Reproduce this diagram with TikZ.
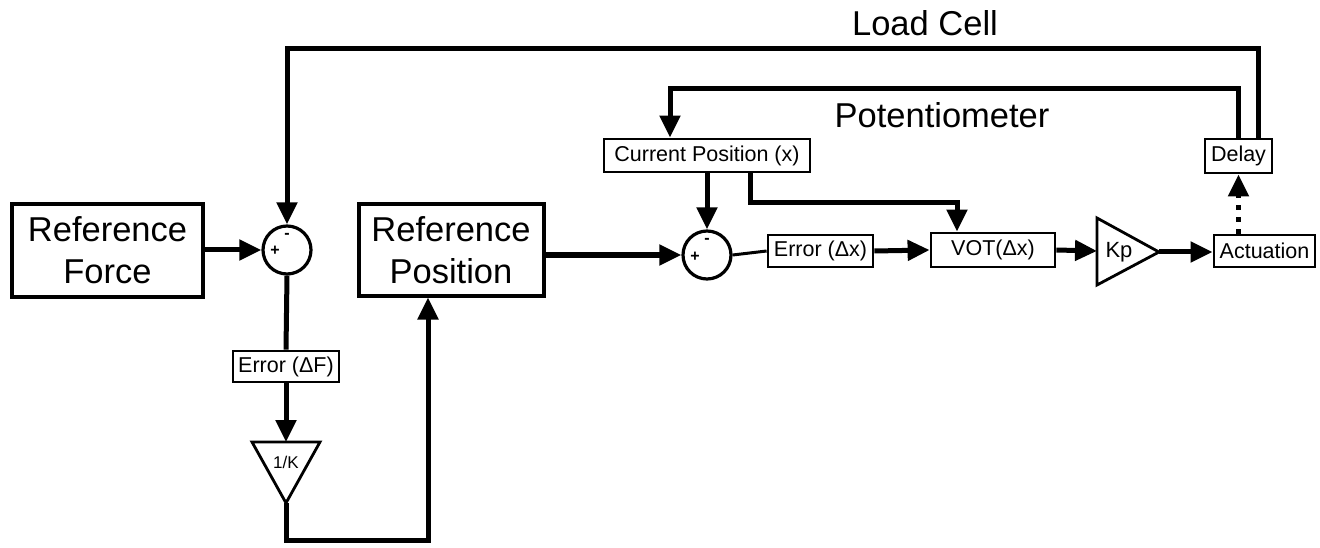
\documentclass[tikz,border=0pt]{standalone}
\usepackage{fontspec}
\setmainfont{Liberation Sans}
\usetikzlibrary{arrows.meta}
\begin{document}
\begin{tikzpicture}[x=1pt,y=-1pt,
 bigbox/.style={draw, line width=4pt, align=center, font=\fontsize{34.5}{42}\selectfont, inner sep=0pt},
 smallbox/.style={draw, line width=2.8pt, font=\fontsize{21.5}{24}\selectfont, inner sep=0pt},
 sumnode/.style={circle, draw, line width=3.2pt, inner sep=0pt, minimum size=48pt},
 conn/.style={line width=5pt, -{Triangle[length=22pt,width=20pt]}},
 plainline/.style={line width=5pt},
 thinline/.style={line width=3pt},
 dotconn/.style={line width=5pt, dash pattern=on 5pt off 7pt, -{Triangle[length=22pt,width=20pt]}},
 tri/.style={draw, line width=2.8pt, line join=miter},
 sign/.style={font=\fontsize{16}{16}\selectfont\bfseries, inner sep=0pt},
 lbl/.style={font=\fontsize{34.5}{40}\selectfont, anchor=base, inner sep=0pt}
]
\useasboundingbox (0,0) rectangle (1320,548);

% blocks
\node[bigbox, minimum width=191pt, minimum height=92pt] (refF) at (107.5,250.5) {Reference\\Force};
\node[bigbox, minimum width=185pt, minimum height=91pt] (refP) at (451,250) {Reference\\Position};
\node[sumnode] (sum1) at (287,250) {};
\node[sumnode] (sum2) at (707,255) {};
\node[smallbox, minimum width=106pt, minimum height=31pt] (errF) at (286,366.5) {Error (ΔF)};
\node[smallbox, minimum width=206pt, minimum height=33pt] (cur) at (707,155.5) {Current Position (x)};
\node[smallbox, minimum width=105pt, minimum height=32pt] (errX) at (820.5,251) {Error (Δx)};
\node[smallbox, minimum width=124pt, minimum height=34pt] (vot) at (993,250) {VOT(Δx)};
\node[smallbox, minimum width=101pt, minimum height=32pt] (act) at (1264.5,251) {Actuation};
\node[smallbox, minimum width=67pt, minimum height=34pt] (delay) at (1238.5,156) {Delay};

% signs
\node[sign] (s1p) at (275,251) {+};
\node[sign] (s1m) at (287,236) {-};
\node[sign] (s2p) at (695,257) {+};
\node[sign] (s2m) at (707,241) {-};

% gain triangles
\draw[tri] (252,442) -- (320,442) -- (286,503) -- cycle;
\node[font=\fontsize{17}{17}\selectfont, inner sep=0pt] (invk) at (286,462) {1/K};
\coordinate (invkTop) at (286,442);
\coordinate (invkTip) at (286,503);
\draw[tri] (1097,218) -- (1097,285) -- (1159,252) -- cycle;
\node[font=\fontsize{22}{22}\selectfont, inner sep=0pt] (kp) at (1119,252) {Kp};
\coordinate (kpIn) at (1097,251);
\coordinate (kpTip) at (1159,252);

% labels
\node[lbl] (lclbl) at (925,36) {Load Cell};
\node[lbl] (potlbl) at (942,128) {Potentiometer};

% routing coordinates
\coordinate (lcR) at (1258,49);
\coordinate (lcL) at (287,49);
\coordinate (potR) at (1238,89);
\coordinate (potL) at (670,89);
\coordinate (b1) at (286,540);
\coordinate (b2) at (428,540);
\coordinate (cv1) at (750,203);
\coordinate (cv2) at (957,203);

% connectors
\draw[conn] (refF.east |- sum1) -- (sum1.west);
\draw[conn] (delay.north -| lcR) -- (lcR) -- (lcL) -- (sum1.north);
\draw[plainline] (sum1.south) -- (errF.north);
\draw[conn] (errF.south) -- (invkTop);
\draw[conn] (invkTip) -- (b1) -- (b2) -- (refP.south -| b2);
\draw[conn] (refP.east |- sum2) -- (sum2.west);
\draw[conn] (cur.south) -- (sum2.north);
\draw[conn] (cur.south -| cv1) -- (cv1) -- (cv2) -- (vot.north -| cv2);
\draw[thinline] (sum2.east) -- (errX.west);
\draw[conn] (errX.east) -- (vot.west);
\draw[conn] (vot.east) -- (kpIn);
\draw[conn] (kpTip) -- (act.west |- kpTip);
\draw[dotconn] (act.north -| delay.south) -- (delay.south);
\draw[conn] (delay.north -| potR) -- (potR) -- (potL) -- (cur.north -| potL);
\end{tikzpicture}
\end{document}
